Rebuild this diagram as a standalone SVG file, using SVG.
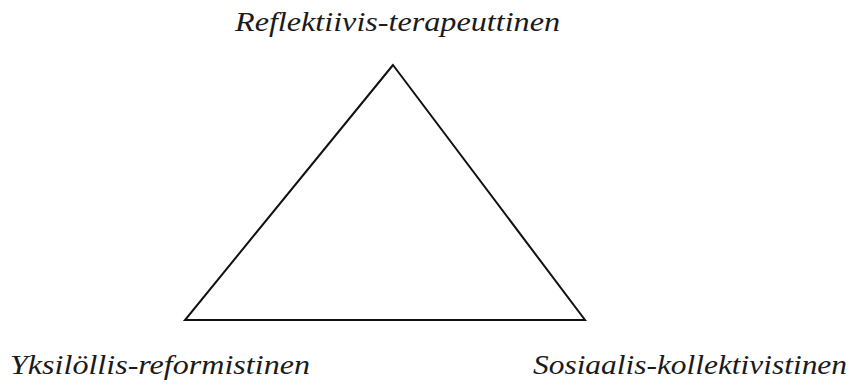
<svg xmlns="http://www.w3.org/2000/svg" width="853" height="385" viewBox="0 0 853 385">
<style>
.lbl{font-family:"Liberation Serif","Times New Roman","DejaVu Serif",serif;font-style:italic;font-size:28px;fill:#1a1a1a}
.tri{fill:none;stroke:#111;stroke-width:2;stroke-linejoin:miter}
</style>
<rect width="853" height="385" fill="#fff"/>
<g id="connectors">
<polygon class="tri" points="393,65 185,320 585,320"/>
</g>
<g id="node-top"><text class="lbl" x="235" y="31" textLength="325" lengthAdjust="spacingAndGlyphs">Reflektiivis-terapeuttinen</text></g>
<g id="node-left"><text class="lbl" x="10" y="374" textLength="300" lengthAdjust="spacingAndGlyphs">Yksilöllis-reformistinen</text></g>
<g id="node-right"><text class="lbl" x="533" y="374" textLength="314" lengthAdjust="spacingAndGlyphs">Sosiaalis-kollektivistinen</text></g>
</svg>
